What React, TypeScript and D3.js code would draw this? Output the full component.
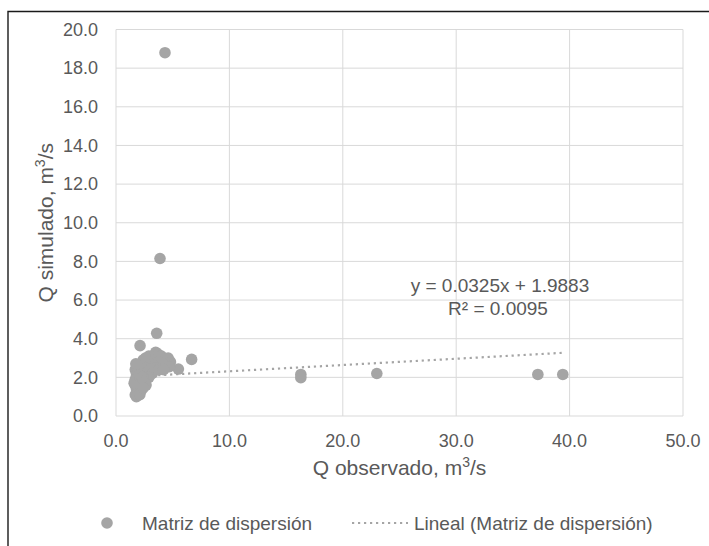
import React from "react";
import * as d3 from "d3";

// Observed vs simulated discharge (m³/s)
const observed: number[] = [
  4.32, 3.88, 3.59, 2.12, 6.67, 5.5,
  16.3, 16.3, 23.0, 37.2, 39.4,
  2.6, 2.9, 3.2, 3.5, 3.7, 3.4, 4.0, 4.3, 4.6, 4.8, 4.5, 4.1, 3.8, 3.0, 2.7, 2.4, 3.3, 4.7,
  1.7, 1.8, 1.9, 2.0, 2.1, 2.2, 2.3, 2.5, 2.6, 2.8, 3.0, 3.2, 2.9, 2.4, 1.7, 2.0, 3.5, 3.8, 4.2,
  1.7, 1.8, 1.9, 1.7, 1.8, 2.0, 2.2, 2.3, 2.5, 2.65, 2.1, 1.6, 2.4, 1.75, 2.0, 2.3,
];
const simulated: number[] = [
  18.8, 8.15, 4.28, 3.64, 2.93, 2.43,
  2.15, 1.98, 2.2, 2.15, 2.15,
  3.0, 3.1, 3.0, 3.3, 3.2, 2.9, 3.1, 2.9, 3.0, 2.8, 2.6, 2.7, 2.8, 2.7, 2.7, 2.9, 2.6, 2.55,
  2.4, 2.2, 2.5, 2.3, 2.0, 2.6, 2.4, 2.2, 2.5, 2.3, 2.4, 2.2, 2.0, 1.9, 1.9, 1.8, 2.5, 2.4, 2.4,
  1.6, 1.4, 1.2, 1.1, 1.0, 1.5, 1.3, 1.7, 1.6, 1.6, 1.1, 1.7, 1.45, 2.7, 2.1, 2.0,
];

const xTicks = [0, 10, 20, 30, 40, 50];
const yTicks = [0, 2, 4, 6, 8, 10, 12, 14, 16, 18, 20];

// Linear trendline coefficients
const slope = 0.0325;
const intercept = 1.9883;
const rSquared = 0.0095;

const FONT = "'Liberation Sans', Arial, sans-serif";
const TEXT = "#595959";
const GRID = "#d9d9d9";
const MARK = "#a5a5a5";

export default function App() {
  const x = d3.scaleLinear().domain([0, 50]).range([116, 683]);
  const y = d3.scaleLinear().domain([0, 20]).range([416, 29.5]);

  const points = observed.map((o, i) => ({ o, s: simulated[i] }));
  const [xMin, xMax] = d3.extent(observed) as [number, number];
  const trend = d3
    .line<number>()
    .x((v) => x(v))
    .y((v) => y(slope * v + intercept))([xMin, xMax]);

  return (
    <svg
      width={709}
      height={546}
      style={{ position: "absolute", left: 0, top: 0, background: "#fff" }}
      fontFamily={FONT}
    >
      {/* outer frame */}
      <path d="M8,546 V11.5 H709" fill="none" stroke="#1a1a1a" strokeWidth={1.4} />

      {/* gridlines */}
      {yTicks.map((t) => (
        <line key={"gy" + t} x1={x(0)} x2={x(50)} y1={y(t)} y2={y(t)} stroke={GRID} strokeWidth={1} />
      ))}
      {xTicks.map((t) => (
        <line key={"gx" + t} x1={x(t)} x2={x(t)} y1={y(0)} y2={y(20)} stroke={GRID} strokeWidth={1} />
      ))}

      {/* tick labels */}
      {yTicks.map((t) => (
        <text key={"ly" + t} x={98} y={y(t)} dy="0.35em" textAnchor="end" fontSize={18} fill={TEXT}>
          {t.toFixed(1)}
        </text>
      ))}
      {xTicks.map((t) => (
        <text key={"lx" + t} x={x(t)} y={446.5} textAnchor="middle" fontSize={18} fill={TEXT}>
          {t.toFixed(1)}
        </text>
      ))}

      {/* axis titles */}
      <text x={(x(0) + x(50)) / 2} y={475} textAnchor="middle" fontSize={21} fill={TEXT}>
        Q observado, m
        <tspan fontSize={14} dy={-8}>3</tspan>
        <tspan dy={8}>/s</tspan>
      </text>
      <text
        transform={`translate(53, ${(y(0) + y(20)) / 2}) rotate(-90)`}
        textAnchor="middle"
        fontSize={21}
        fill={TEXT}
      >
        Q simulado, m
        <tspan fontSize={14} dy={-8}>3</tspan>
        <tspan dy={8}>/s</tspan>
      </text>

      {/* scatter points */}
      {points.map((p, i) => (
        <circle key={"p" + i} cx={x(p.o)} cy={y(p.s)} r={5.8} fill={MARK} />
      ))}

      {/* trendline */}
      <path d={trend ?? ""} fill="none" stroke={MARK} strokeWidth={2.2} strokeDasharray="2.2 3.8" />

      {/* trendline equation */}
      <text x={500} y={292} textAnchor="middle" fontSize={19} fill={TEXT}>
        {`y = ${slope}x + ${intercept}`}
      </text>
      <text x={498} y={315} textAnchor="middle" fontSize={19} fill={TEXT}>
        {`R² = ${rSquared.toFixed(4)}`}
      </text>

      {/* legend */}
      <circle cx={107} cy={523} r={5.8} fill={MARK} />
      <text x={142} y={529.5} fontSize={19} fill={TEXT}>
        Matriz de dispersión
      </text>
      <line x1={352} x2={408} y1={523} y2={523} stroke={MARK} strokeWidth={2.2} strokeDasharray="2.2 3.8" />
      <text x={414} y={529.5} fontSize={19} fill={TEXT}>
        Lineal (Matriz de dispersión)
      </text>
    </svg>
  );
}
